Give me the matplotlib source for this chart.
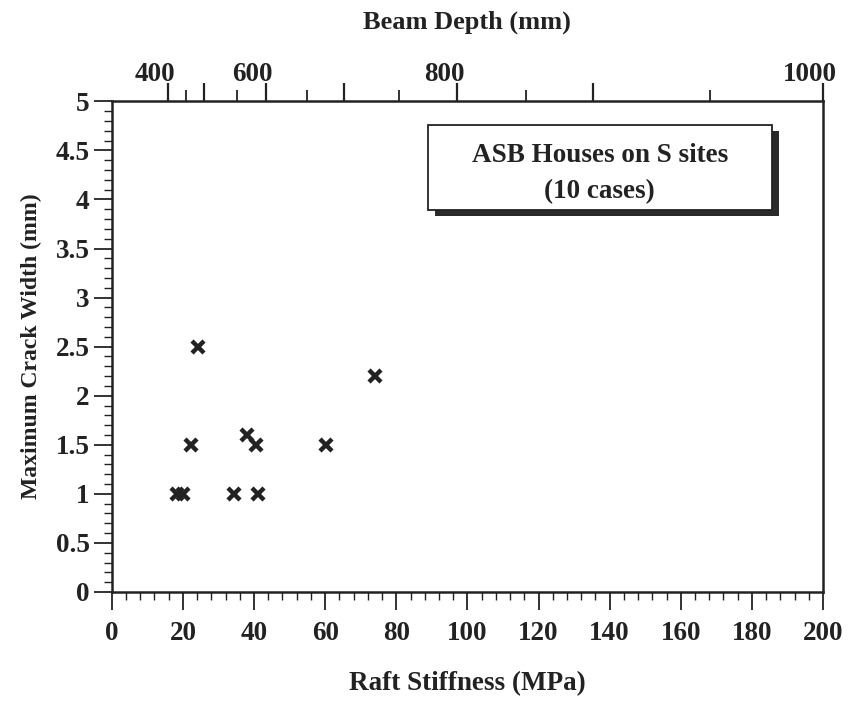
import matplotlib
matplotlib.use("Agg")
import matplotlib.pyplot as plt
import matplotlib.transforms as mtransforms
from matplotlib.patches import Rectangle
from matplotlib.ticker import MultipleLocator, FixedLocator

# measured cases: raft stiffness (MPa) vs max crack width (mm)
stiffness = [18.2, 20.1, 22.2, 24.1, 34.4, 38.1, 40.5, 41.2, 60.1, 74.0]
crack_width = [1.0, 1.0, 1.5, 2.5, 1.0, 1.6, 1.5, 1.0, 1.5, 2.2]

# beam depth scale on top axis, with its stiffness equivalent
depth_major = [400, 500, 600, 700, 800, 900, 1000]
depth_major_at = [15.9, 25.8, 43.3, 65.3, 97.1, 135.4, 200.0]
depth_minor = [450, 550, 650, 750, 850, 950]
depth_minor_at = [20.9, 35.1, 54.8, 80.9, 116.5, 168.3]
depth_labelled = [400, 600, 800, 1000]

y_ticks = [0, 0.5, 1, 1.5, 2, 2.5, 3, 3.5, 4, 4.5, 5]
y_tick_labels = ['0', '0.5', '1', '1.5', '2', '2.5', '3', '3.5', '4', '4.5', '5']

plt.rcParams['font.family'] = ['Liberation Serif', 'DejaVu Serif']
plt.rcParams['font.weight'] = 'bold'
ink = '#222222'

fig = plt.figure(figsize=(8.6, 7.01), dpi=100)
ax = fig.add_axes([0.130, 0.1555, 0.827, 0.700])

ax.plot(stiffness, crack_width, linestyle='none', marker='x', color=ink,
        markersize=8, markeredgewidth=3.2)

ax.set_xlim(0, 200)
ax.set_ylim(0, 5)
ax.xaxis.set_major_locator(MultipleLocator(20))
ax.xaxis.set_minor_locator(MultipleLocator(4))
ax.set_yticks(y_ticks)
ax.set_yticklabels(y_tick_labels)
ax.yaxis.set_minor_locator(MultipleLocator(0.1))

ax.tick_params(which='major', direction='out', length=13, width=1.3, labelsize=19.5, colors=ink)
ax.tick_params(which='minor', direction='out', length=6, width=1.0, colors=ink)
ax.tick_params(axis='x', which='major', pad=8)
ax.tick_params(axis='y', which='major', pad=3)

for sp in ax.spines.values():
    sp.set_linewidth(1.8)
    sp.set_color(ink)

ax.set_xlabel('Raft Stiffness (MPa)', fontsize=19.5, fontweight='bold', labelpad=18, color=ink)
ax.set_ylabel('Maximum Crack Width (mm)', fontsize=17, fontweight='bold', labelpad=10, color=ink)

# top axis: beam depth
top = ax.twiny()
top.set_xlim(ax.get_xlim())
top.xaxis.set_major_locator(FixedLocator(depth_major_at))
top.xaxis.set_minor_locator(FixedLocator(depth_minor_at))
top.set_xticklabels([str(d) if d in depth_labelled else '' for d in depth_major])
top.tick_params(which='major', direction='out', length=13, width=1.6, labelsize=19.5, pad=-3, colors=ink)
top.tick_params(which='minor', direction='out', length=8, width=1.3, colors=ink)
for sp in top.spines.values():
    sp.set_visible(False)
top.set_xlabel('Beam Depth (mm)', fontsize=19, fontweight='bold', labelpad=24, color=ink)

shift = mtransforms.ScaledTranslation(-13 / 100, 0, fig.dpi_scale_trans)
for lab in top.get_xticklabels():
    lab.set_transform(lab.get_transform() + shift)

# caption box with drop shadow
x0, y0, w, h = 0.444, 0.778, 0.484, 0.173
dx, dy = 7 / 711, -6 / 491
ax.add_patch(Rectangle((x0 + dx, y0 + dy), w, h, transform=ax.transAxes,
                       facecolor='#2a2a2a', edgecolor='none', zorder=4))
ax.add_patch(Rectangle((x0, y0), w, h, transform=ax.transAxes,
                       facecolor='white', edgecolor=ink, linewidth=1.3, zorder=5))
ax.text(x0 + w / 2, y0 + h * 0.64, 'ASB Houses on S sites', transform=ax.transAxes,
        ha='center', va='center', fontsize=19.5, fontweight='bold', color=ink, zorder=6)
ax.text(x0 + w / 2, y0 + h * 0.22, '(10 cases)', transform=ax.transAxes,
        ha='center', va='center', fontsize=19.5, fontweight='bold', color=ink, zorder=6)

fig.savefig('out.png', dpi=100)
